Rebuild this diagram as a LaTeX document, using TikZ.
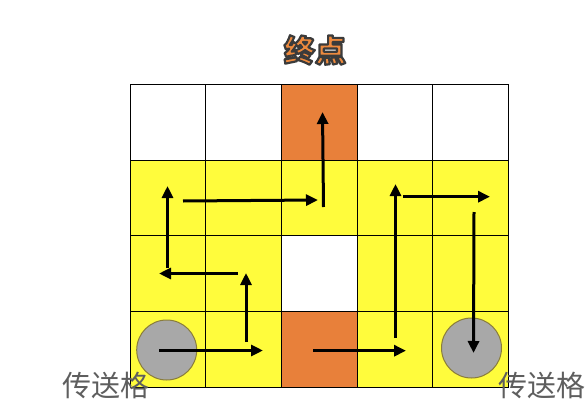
\documentclass[tikz,border=0pt]{standalone}
\usepackage{fontspec}
\newfontfamily\cjk{Noto Sans CJK SC}
\usetikzlibrary{arrows.meta}
\definecolor{cellyellow}{HTML}{FFFC3C}
\definecolor{cellorange}{HTML}{E8803A}
\definecolor{portalgray}{HTML}{A8A8A8}
\definecolor{portaledge}{HTML}{8A7D3A}
\definecolor{labelgray}{HTML}{5E5E5E}
\definecolor{titleorange}{HTML}{EE8A3E}
\newcommand{\outlinedtext}[1]{\special{pdf:literal direct 2 Tr 2.2 w 1 j 0.23 0.23 0.23 RG}#1\special{pdf:literal direct 0 Tr}}
\tikzset{
  cell/.style={draw=black, line width=0.9pt, minimum size=75.7pt, inner sep=0pt, outer sep=0pt},
  portal/.style={circle, draw=portaledge, line width=1pt, fill=portalgray, minimum size=60pt, inner sep=0pt},
  walk/.style={line width=3pt, -{Triangle[length=12pt,width=11pt]}},
  sidelabel/.style={font=\cjk\fontsize{29}{29}\selectfont, text=labelgray, inner sep=0pt},
  titlelabel/.style={font=\cjk\bfseries\fontsize{31}{31}\selectfont, text=titleorange, inner sep=0pt},
}
\begin{document}
\begin{tikzpicture}[x=1pt,y=-1pt]
\useasboundingbox (0,0) rectangle (586,404);
% grid cells: columns 0..4, rows 0..3
\foreach \r/\c/\col in {
  0/0/white,0/1/white,0/2/cellorange,0/3/white,0/4/white,
  1/0/cellyellow,1/1/cellyellow,1/2/cellyellow,1/3/cellyellow,1/4/cellyellow,
  2/0/cellyellow,2/1/cellyellow,2/2/white,2/3/cellyellow,2/4/cellyellow,
  3/0/cellyellow,3/1/cellyellow,3/2/cellorange,3/3/cellyellow,3/4/cellyellow}{
  \node[cell, fill=\col] (c\r\c) at ({130+75.7*(\c+0.5)},{84.3+75.7*(\r+0.5)}) {};
}
% portals
\node[portal] (p1) at (166.7,350) {};
\node[portal] (p2) at (471.5,348) {};
% arrow end points
\coordinate (a1s) at (159,350.5);   \coordinate (a1e) at (263,350.5);
\coordinate (a2s) at (246,342);     \coordinate (a2e) at (246,273);
\coordinate (a3s) at (238,273.5);   \coordinate (a3e) at (159,273.5);
\coordinate (a4s) at (167.5,268);   \coordinate (a4e) at (167.5,186);
\coordinate (a5s) at (183,201);     \coordinate (a5e) at (318,200);
\coordinate (a6s) at (323.5,207);   \coordinate (a6e) at (322.5,112);
\coordinate (a7s) at (313,350.7);   \coordinate (a7e) at (406,350.7);
\coordinate (a8s) at (395.5,338);   \coordinate (a8e) at (395.5,184);
\coordinate (a9s) at (403,196.7);   \coordinate (a9e) at (490,196.7);
\coordinate (a10s) at (474,212);    \coordinate (a10e) at (473.5,353);
\draw[walk] (a1s) -- (a1e);
\draw[walk] (a2s) -- (a2e);
\draw[walk] (a3s) -- (a3e);
\draw[walk] (a4s) -- (a4e);
\draw[walk] (a5s) -- (a5e);
\draw[walk] (a6s) -- (a6e);
\draw[walk] (a7s) -- (a7e);
\draw[walk] (a8s) -- (a8e);
\draw[walk] (a9s) -- (a9e);
\draw[walk] (a10s) -- (a10e);
% title with outline
\node[titlelabel] (title) at (315,50) {\outlinedtext{终点}};
% side labels
\node[sidelabel] (lbl1) at (105.5,385.5) {传送格};
\node[sidelabel] (lbl2) at (541.5,385.5) {传送格};
\end{tikzpicture}
\end{document}
